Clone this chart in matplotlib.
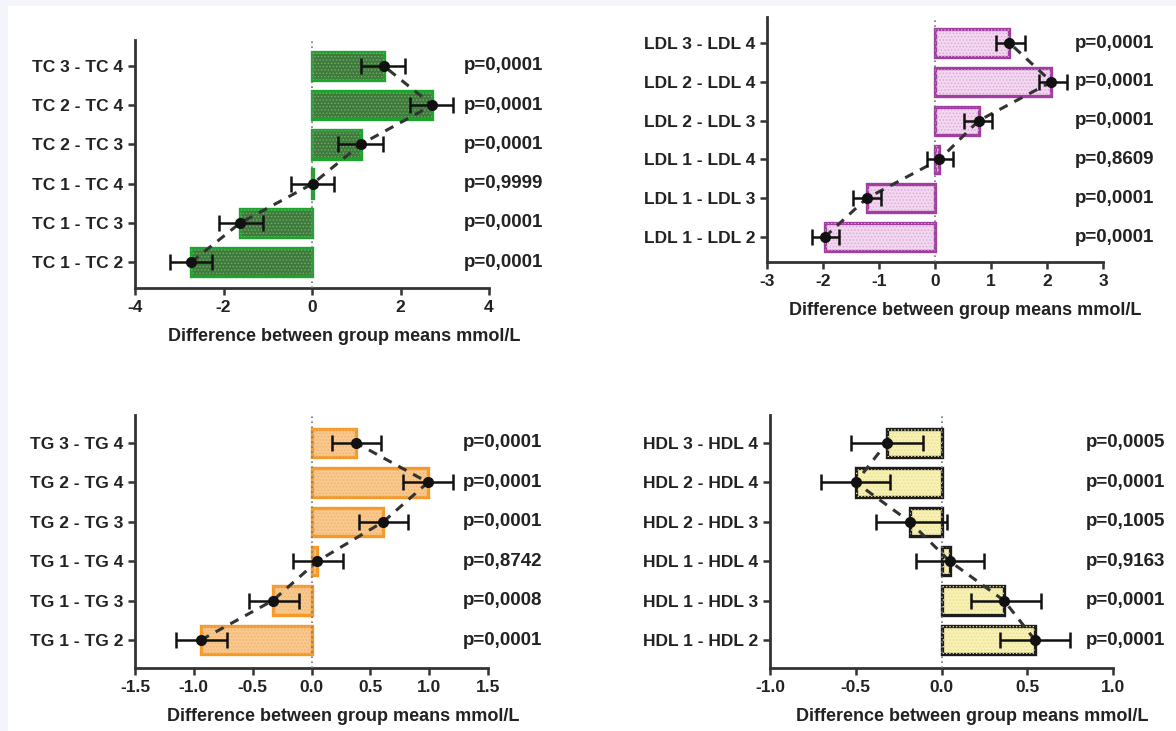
import numpy as np
import matplotlib
matplotlib.use("Agg")
import matplotlib.pyplot as plt
from matplotlib.patches import Rectangle

plt.rcParams['font.family'] = ['Liberation Sans', 'DejaVu Sans']
plt.rcParams['font.weight'] = 'bold'
plt.rcParams['hatch.linewidth'] = 0.6

# comparisons listed bottom to top
tc_labels = ['TC 1 - TC 2', 'TC 1 - TC 3', 'TC 1 - TC 4', 'TC 2 - TC 3', 'TC 2 - TC 4', 'TC 3 - TC 4']
tc_means = [-2.73, -1.62, 0.02, 1.1, 2.72, 1.62]
tc_lo = [-3.2, -2.1, -0.48, 0.58, 2.22, 1.1]
tc_hi = [-2.25, -1.1, 0.49, 1.6, 3.18, 2.11]
tc_p = ['p=0,0001', 'p=0,0001', 'p=0,9999', 'p=0,0001', 'p=0,0001', 'p=0,0001']
tc_ticks = [-4, -2, 0, 2, 4]

ldl_labels = ['LDL 1 - LDL 2', 'LDL 1 - LDL 3', 'LDL 1 - LDL 4', 'LDL 2 - LDL 3', 'LDL 2 - LDL 4', 'LDL 3 - LDL 4']
ldl_means = [-1.97, -1.22, 0.08, 0.78, 2.08, 1.33]
ldl_lo = [-2.2, -1.47, -0.15, 0.52, 1.86, 1.09]
ldl_hi = [-1.72, -0.97, 0.33, 1.02, 2.35, 1.6]
ldl_p = ['p=0,0001', 'p=0,0001', 'p=0,8609', 'p=0,0001', 'p=0,0001', 'p=0,0001']
ldl_ticks = [-3, -2, -1, 0, 1, 2, 3]

tg_labels = ['TG 1 - TG 2', 'TG 1 - TG 3', 'TG 1 - TG 4', 'TG 2 - TG 3', 'TG 2 - TG 4', 'TG 3 - TG 4']
tg_means = [-0.94, -0.33, 0.05, 0.61, 0.99, 0.38]
tg_lo = [-1.15, -0.53, -0.16, 0.4, 0.78, 0.17]
tg_hi = [-0.72, -0.11, 0.27, 0.82, 1.2, 0.59]
tg_p = ['p=0,0001', 'p=0,0008', 'p=0,8742', 'p=0,0001', 'p=0,0001', 'p=0,0001']
tg_ticks = [-1.5, -1.0, -0.5, 0.0, 0.5, 1.0, 1.5]

hdl_labels = ['HDL 1 - HDL 2', 'HDL 1 - HDL 3', 'HDL 1 - HDL 4', 'HDL 2 - HDL 3', 'HDL 2 - HDL 4', 'HDL 3 - HDL 4']
hdl_means = [0.545, 0.365, 0.048, -0.185, -0.5, -0.32]
hdl_lo = [0.34, 0.17, -0.15, -0.38, -0.7, -0.525]
hdl_hi = [0.75, 0.58, 0.25, 0.03, -0.3, -0.11]
hdl_p = ['p=0,0001', 'p=0,0001', 'p=0,9163', 'p=0,1005', 'p=0,0001', 'p=0,0005']
hdl_ticks = [-1.0, -0.5, 0.0, 0.5, 1.0]

W, H = 1176, 731


def px_axes(left, right, top, bottom):
    return [left / W, 1 - bottom / H, (right - left) / W, (bottom - top) / H]


def panel(fig, rect, labels, means, lo, hi, pvals, ticks, fmt, ylim,
          face, edge, dot):
    ax = fig.add_axes(rect)
    ax.patch.set_alpha(0)
    y = np.arange(len(labels))
    means = np.array(means)
    err = [means - np.array(lo), np.array(hi) - means]
    ax.barh(y, means, height=0.72, color=face, edgecolor=edge, linewidth=2.4, zorder=2)
    ax.barh(y, means, height=0.72, color='none', edgecolor=dot, linewidth=0,
            hatch='.....', zorder=2)
    ax.axvline(0, color='#777777', linestyle=(0, (1, 2)), linewidth=1.2, zorder=3)
    ax.plot(means, y, color='#333333', linestyle=(0, (3, 2.5)), linewidth=2.2, zorder=4)
    ax.errorbar(means, y, xerr=err, fmt='o', color='#111111', markersize=7,
                elinewidth=1.8, capsize=6, capthick=1.8, zorder=5)
    ax.set_xlim(ticks[0], ticks[-1])
    ax.set_ylim(*ylim)
    ax.set_xticks(ticks)
    ax.set_xticklabels([fmt.format(t) for t in ticks])
    ax.set_yticks(y)
    ax.set_yticklabels(labels)
    for s in ['top', 'right']:
        ax.spines[s].set_visible(False)
    for s in ['left', 'bottom']:
        ax.spines[s].set_linewidth(2)
        ax.spines[s].set_color('#333333')
    ax.tick_params(axis='both', width=1.8, length=5, color='#333333',
                   labelsize=12.5, labelcolor='#222222')
    for yi, p in zip(y, pvals):
        ax.text(1.153, yi, p, transform=ax.get_yaxis_transform(), ha='right',
                va='center', fontsize=13.5, fontweight='bold', color='#222222')
    ax.annotate('Difference between group means mmol/L', xy=(0.59, 0),
                xycoords='axes fraction', xytext=(0, -35), textcoords='offset points',
                ha='center', va='center', fontsize=13, fontweight='bold', color='#222222')
    return ax


fig = plt.figure(figsize=(W / 100, H / 100), dpi=100)
fig.patch.set_facecolor('#f3f5fa')
bg = Rectangle((8 / W, 0), 1, 1 - 6 / H, transform=fig.transFigure,
               facecolor='white', edgecolor='none', zorder=-10)
fig.add_artist(bg)

panel(fig, px_axes(135, 489, 40, 288), tc_labels, tc_means, tc_lo, tc_hi, tc_p,
      tc_ticks, '{:.0f}', (-0.66, 5.66), '#3e7b3a', '#1ea32e', '#78a874')
panel(fig, px_axes(767, 1103, 17, 262), ldl_labels, ldl_means, ldl_lo, ldl_hi, ldl_p,
      ldl_ticks, '{:.0f}', (-0.64, 5.67), '#f3d6ef', '#a23da2', '#d8a8d6')
panel(fig, px_axes(135, 488, 415, 668), tg_labels, tg_means, tg_lo, tg_hi, tg_p,
      tg_ticks, '{:.1f}', (-0.71, 5.71), '#f8c88c', '#f59a28', '#f0b070')
panel(fig, px_axes(770, 1113, 415, 668), hdl_labels, hdl_means, hdl_lo, hdl_hi, hdl_p,
      hdl_ticks, '{:.1f}', (-0.71, 5.71), '#f8f1b4', '#1c1c1c', '#e8dc90')

fig.savefig('out.png', dpi=100, facecolor=fig.get_facecolor())
